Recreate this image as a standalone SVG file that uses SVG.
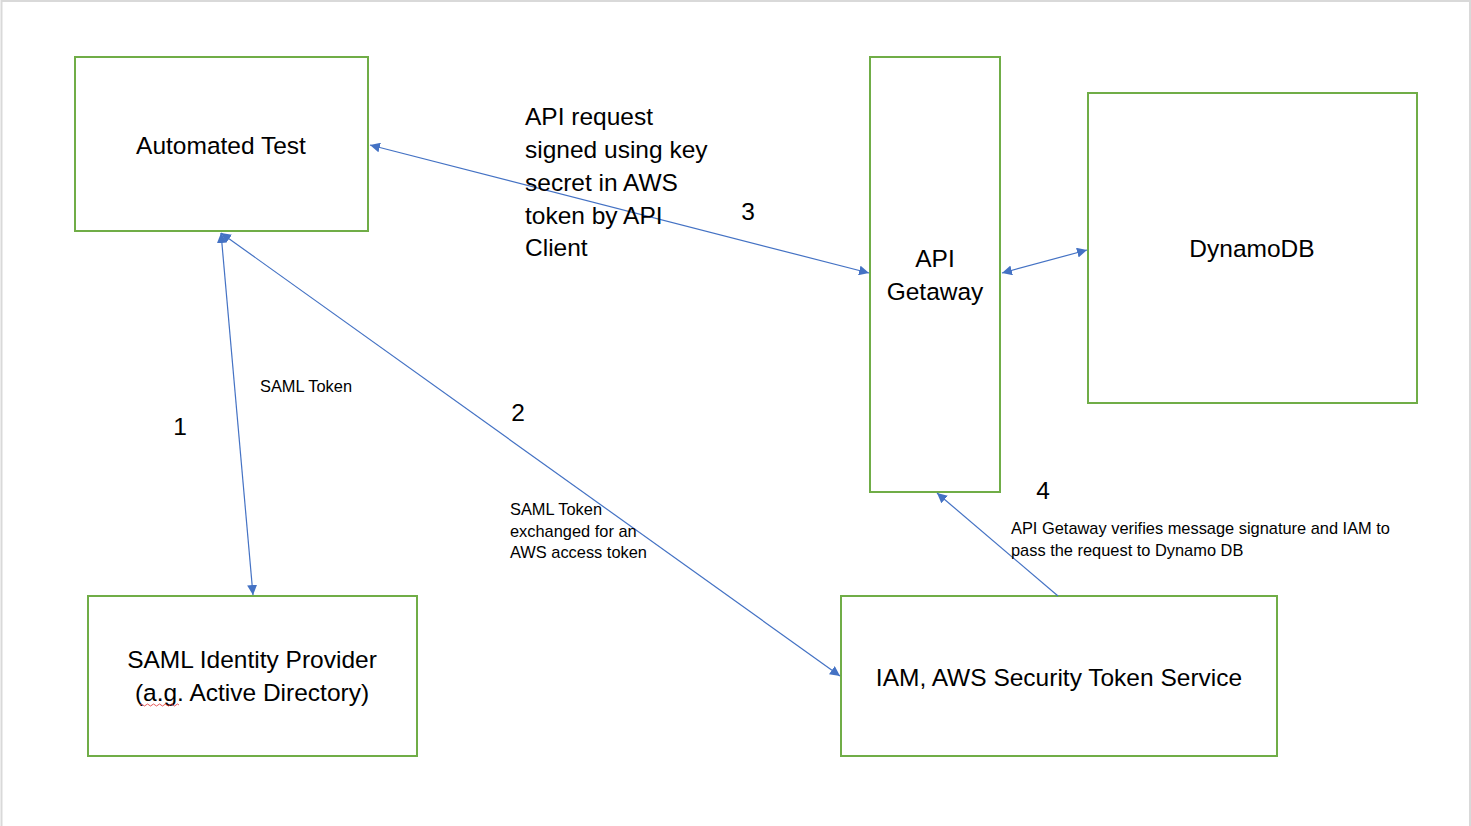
<svg xmlns="http://www.w3.org/2000/svg" width="1471" height="826" viewBox="0 0 1471 826">
<style>
.box{fill:#fff;stroke:#70AD47;stroke-width:2}
.big{font-family:"Liberation Sans",Arial,sans-serif;font-size:24.5px;fill:#000}
.sm{font-family:"Liberation Sans",Arial,sans-serif;font-size:16.4px;fill:#000}
.c{text-anchor:middle}
.con{stroke:#4472C4;stroke-width:1.2;fill:none}
</style>
<defs>
<marker id="ah" viewBox="0 0 10 10" refX="10" refY="5" markerWidth="10" markerHeight="10" markerUnits="userSpaceOnUse" orient="auto-start-reverse">
<path d="M0,0 L10,5 L0,10 z" fill="#4472C4"/>
</marker>
</defs>
<rect x="0" y="0" width="1471" height="826" fill="#fff"/>
<rect x="1.5" y="1" width="1468.5" height="830" fill="none" stroke="#d9d9d9" stroke-width="2"/>

<g id="automated-test">
<rect class="box" x="75" y="57" width="293" height="174"/>
<text class="big c" x="221" y="154">Automated Test</text>
</g>
<g id="api-gateway">
<rect class="box" x="870" y="57" width="130" height="435"/>
<text class="big c" x="935" y="267">API</text>
<text class="big c" x="935" y="300">Getaway</text>
</g>
<g id="dynamodb">
<rect class="box" x="1088" y="93" width="329" height="310"/>
<text class="big c" x="1252" y="257">DynamoDB</text>
</g>
<g id="saml-idp">
<rect class="box" x="88" y="596" width="329" height="160"/>
<text class="big c" x="252" y="668">SAML Identity Provider</text>
<text class="big c" x="252" y="701">(a.g. Active Directory)</text>
<path d="M140,705 q1.5,-2 3,0 t3,0 t3,0 t3,0 t3,0 t3,0 t3,0 t3,0 t3,0 t3,0 t3,0 t3,0 t3,0" fill="none" stroke="#e03030" stroke-width="0.8"/>
</g>
<g id="iam-sts">
<rect class="box" x="841" y="596" width="436" height="160"/>
<text class="big c" x="1059" y="686">IAM, AWS Security Token Service</text>
</g>

<g id="connectors">
<line class="con" x1="370" y1="145" x2="869" y2="273" marker-start="url(#ah)" marker-end="url(#ah)"/>
<line class="con" x1="1002" y1="273" x2="1087" y2="250" marker-start="url(#ah)" marker-end="url(#ah)"/>
<line class="con" x1="221" y1="233" x2="253" y2="595" marker-start="url(#ah)" marker-end="url(#ah)"/>
<line class="con" x1="221" y1="233" x2="840" y2="676" marker-start="url(#ah)" marker-end="url(#ah)"/>
<line class="con" x1="1058" y1="596" x2="937" y2="493" marker-end="url(#ah)"/>
</g>

<g id="labels">
<text class="big" x="525" y="125">API request</text>
<text class="big" x="525" y="158">signed using key</text>
<text class="big" x="525" y="191">secret in AWS</text>
<text class="big" x="525" y="224">token by API</text>
<text class="big" x="525" y="256">Client</text>
<text class="big c" x="748" y="220">3</text>
<text class="big c" x="180" y="435">1</text>
<text class="big c" x="518" y="421">2</text>
<text class="big c" x="1043" y="499">4</text>
<text class="sm" x="260" y="392">SAML Token</text>
<text class="sm" x="510" y="515">SAML Token</text>
<text class="sm" x="510" y="537">exchanged for an</text>
<text class="sm" x="510" y="558">AWS access token</text>
<text class="sm" x="1011" y="534">API Getaway verifies message signature and IAM to</text>
<text class="sm" x="1011" y="556">pass the request to Dynamo DB</text>
</g>
</svg>
